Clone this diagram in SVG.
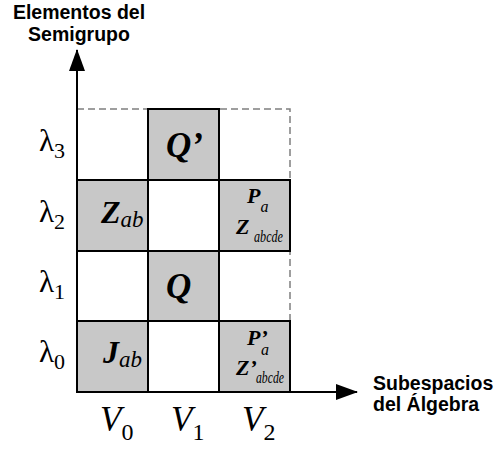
<svg xmlns="http://www.w3.org/2000/svg" width="494" height="449" viewBox="0 0 494 449">
<style>
.cell{fill:#c8c8c8;stroke:#000;stroke-width:2}
.dash{fill:none;stroke:#7f7f7f;stroke-width:1.5;stroke-dasharray:7,4}
.axis{stroke:#000;stroke-width:2;fill:none}
.lab{font-family:"Liberation Sans",Arial,sans-serif;font-weight:bold;font-size:19.5px;fill:#000}
.sym{font-family:"Liberation Serif","Times New Roman",serif;fill:#000}
.bi{font-weight:bold;font-style:italic}
.it{font-style:italic}
</style>
<defs>
<marker id="ah" viewBox="0 0 22 16" refX="21" refY="8" markerWidth="22" markerHeight="16" markerUnits="userSpaceOnUse" orient="auto">
<path d="M0,0 L22,8 L0,16 Z" fill="#000"/>
</marker>
</defs>
<g id="frame">
<path class="dash" d="M77,109 H290 V321"/>
</g>
<g id="cell-Qp"><rect class="cell" x="148" y="109" width="71" height="71"/><text class="sym bi" x="166" y="157" font-size="35">Q’</text></g>
<g id="cell-Zab"><rect class="cell" x="77" y="180" width="71" height="71"/><text class="sym" x="101" y="223"><tspan class="bi" font-size="32">Z</tspan><tspan class="it" font-size="23" dy="4">ab</tspan></text></g>
<g id="cell-PaZ"><rect class="cell" x="219" y="180" width="71" height="71"/><text class="sym" x="247" y="203"><tspan class="bi" font-size="22">P</tspan><tspan class="it" font-size="16" dy="9">a</tspan></text><text class="sym bi" x="236" y="234" font-size="22">Z</text><text class="sym it" x="254" y="242" font-size="17" textLength="29" lengthAdjust="spacingAndGlyphs">abcde</text></g>
<g id="cell-Q"><rect class="cell" x="148" y="251" width="71" height="70"/><text class="sym bi" x="166" y="298" font-size="35">Q</text></g>
<g id="cell-Jab"><rect class="cell" x="77" y="321" width="71" height="71"/><text class="sym" x="103" y="363"><tspan class="bi" font-size="32">J</tspan><tspan class="it" font-size="23" dy="4">ab</tspan></text></g>
<g id="cell-PpZp"><rect class="cell" x="219" y="321" width="71" height="71"/><text class="sym" x="247" y="345"><tspan class="bi" font-size="22">P’</tspan><tspan class="it" font-size="16" x="261" dy="10">a</tspan></text><text class="sym" x="236" y="375"><tspan class="bi" font-size="22">Z’</tspan><tspan class="it" font-size="17" x="256" dy="8" textLength="28" lengthAdjust="spacingAndGlyphs">abcde</tspan></text></g>
<g id="axes">
<line class="axis" x1="77" y1="392" x2="77" y2="50" marker-end="url(#ah)"/>
<line class="axis" x1="77" y1="392" x2="357" y2="392" marker-end="url(#ah)"/>
</g>
<g id="ylabels">
<text class="sym" x="39" y="151" font-size="31">λ<tspan font-size="22" dy="7">3</tspan></text>
<text class="sym" x="39" y="222" font-size="31">λ<tspan font-size="22" dy="7">2</tspan></text>
<text class="sym" x="39" y="292" font-size="31">λ<tspan font-size="22" dy="7">1</tspan></text>
<text class="sym" x="39" y="362" font-size="31">λ<tspan font-size="22" dy="7">0</tspan></text>
</g>
<g id="xlabels">
<text class="sym" x="100" y="431"><tspan class="it" font-size="35">V</tspan><tspan font-size="24" dy="9">0</tspan></text>
<text class="sym" x="171" y="431"><tspan class="it" font-size="35">V</tspan><tspan font-size="24" dy="9">1</tspan></text>
<text class="sym" x="242" y="431"><tspan class="it" font-size="35">V</tspan><tspan font-size="24" dy="9">2</tspan></text>
</g>
<g id="titles">
<text class="lab" x="79" y="19" text-anchor="middle">Elementos del</text>
<text class="lab" x="79" y="41" text-anchor="middle">Semigrupo</text>
<text class="lab" x="373" y="390">Subespacios</text>
<text class="lab" x="373" y="411">del Álgebra</text>
</g>
</svg>
